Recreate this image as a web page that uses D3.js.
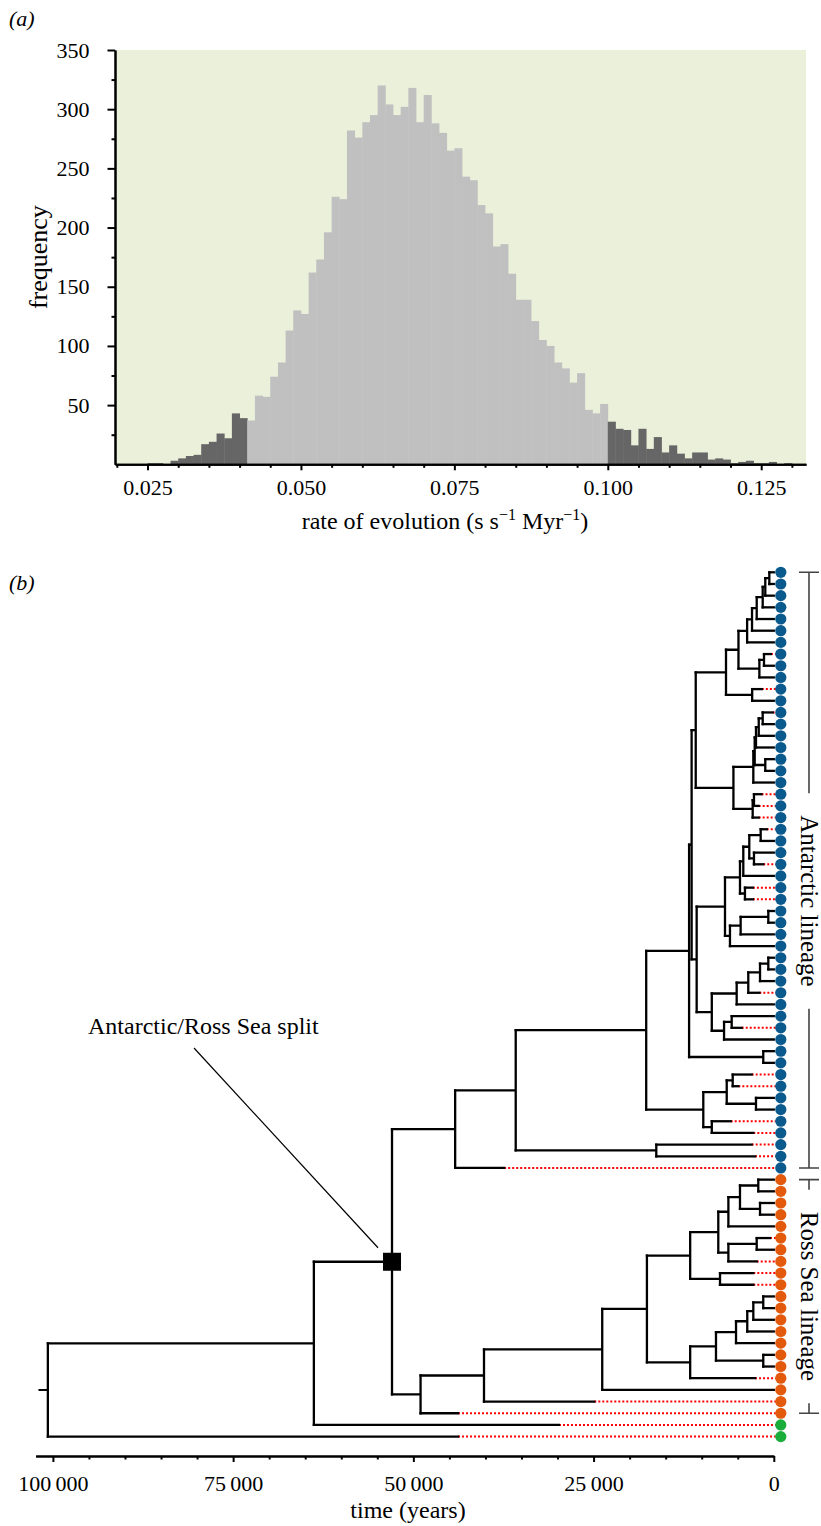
<!DOCTYPE html>
<html>
<head>
<meta charset="utf-8">
<script src="https://cdn.jsdelivr.net/npm/d3@7"></script>
<style>
  body { margin: 0; background: #fff; }
  svg { display: block; font-family: "Liberation Serif", "Times New Roman", serif; }
  .axis path, .axis line { stroke: #000; stroke-width: 2; }
  .axis text { font-family: "Liberation Serif", serif; font-size: 22px; fill: #000; }
  .lbl { font-size: 24px; fill: #000; }
  .tag { font-size: 22px; font-style: italic; fill: #000; }
</style>
</head>
<body>
<svg id="fig" width="821" height="1526"></svg>
<script>
// ---- (a) posterior rates, counts per bin of 0.00125 starting at 0.025
const binStart = 0.025;
const binWidth = 0.00125;
const freq = [1, 1, 0, 3, 5, 7, 8, 17, 19, 26,
  22, 43, 39, 37, 58, 57, 74, 86, 113, 130,
  127, 162, 173, 196, 226, 224, 282, 276, 289, 295,
  320, 304, 295, 302, 318, 289, 312, 288, 280, 265,
  267, 243, 240, 219, 212, 184, 186, 161, 139, 139,
  121, 105, 100, 86, 81, 69, 77, 46, 43, 51,
  36, 30, 29, 16, 30, 13, 23, 10, 16, 9,
  5, 10, 10, 4, 5, 4, 1, 2, 3, 1,
  1, 2, 0, 1];
const hpd = [0.04125, 0.100];
const rateTicks = [0.025, 0.050, 0.075, 0.100, 0.125];
const freqTicks = [50, 100, 150, 200, 250, 300, 350];

// ---- (b) tree, ages in thousand years
const leafAge = [0, 0, 0, 0, 0, 0, 0, 0.4, 0, 0,
  1.66, 0, 0.15, 0, 0, 0, 0, 0, 0, 1.7,
  2.1, 2.1, 0.98, 0, 0, 1.46, 0, 2.9, 2.9, 0,
  0, 0, 0, 0, 0, 0, 2.0, 0, 0, 4.45,
  0, 0, 0, 3.07, 4.92, 0, 0, 5.98, 2.84, 3.07,
  2.6, 37.4, 0, 0, 0, 0, 0, 0.53, 0, 2.37,
  2.84, 2.84, 0, 0, 0, 0, 0, 0, 0, 2.6,
  0, 24.9, 43.8, 29.8, 43.8];
const cladeNames = ["Antarctic lineage", "Ross Sea lineage", "outgroup"];
const cladeFirst = [0, 52, 73];
const cladeLast = [51, 72, 74];
const cladeColor = ["#0b5a8e", "#e35a0c", "#1aad3a"];
const timeTicks = [100000, 75000, 50000, 25000, 0];

const node = (age, ...kids) => ({ age, children: kids.map(k => typeof k === "number" ? { leaf: k } : k) });

const antarcticClade = node(44.2,
  node(35.8,
    node(17.7,
      node(11.75,
        node(11.4,
          node(10.83,
            node(6.63,
              node(4.9,
                node(3.7, node(3.02, node(2.37, node(1.54, node(1.18, node(0.62, 0, 1), 2), 3), 4), 5), 6),
                node(2.0, node(1.36, 7, 8), 9)),
              node(3.0, 10, 11)),
            node(5.6,
              node(2.84, node(2.65, node(2.47, node(2.09, node(1.54, 12, 13), 14), 15), node(1.18, 16, 17)), 18),
              node(2.93, node(2.75, 19, 20), 21))),
          node(10.7,
            node(6.77,
              node(4.69, node(4.23, node(3.4, node(1.82, 22, 23), node(2.75, 24, 25)), 26), node(4.0, 27, 28)),
              node(6.08, node(4.6, node(0.76, 29, 30), 31), 32)),
            node(8.6,
              node(5.15, node(3.54, node(1.91, node(0.76, 33, 34), 35), 36), 37),
              node(6.9, node(5.84, 38, 39), 40)))),
        node(1.46, 41, 42)),
      node(9.78,
        node(6.53, node(5.7, 43, 44), node(2.47, 45, 46)),
        node(8.6, 47, 48))),
    node(16.3, 49, 50)),
  51);

const rossSeaClade = node(49.0,
  node(40.2,
    node(23.8,
      node(17.6,
        node(11.6,
          node(7.7,
            node(6.3, node(4.69, node(2.15, 52, 53), node(1.91, 54, 55)), 56),
            node(6.3, node(2.37, 57, 58), 59)),
          node(7.46, 60, 61)),
        node(11.6,
          node(8.02,
            node(5.24, node(3.68, node(2.84, node(1.46, 62, 63), 64), 65), 66),
            node(1.46, 67, 68)),
          69)),
      70),
    71),
  72);

const splitAge = 52.96;
const tree = node(100.7, node(63.8, node(splitAge, antarcticClade, rossSeaClade), 73), 74);

const svg = d3.select("#fig");

// ================= (a) histogram
const hx = d3.scaleLinear().domain([0.0197, 0.1323]).range([115, 806]);
const hy = d3.scaleLinear().domain([0, 350]).range([464.3, 50]);

svg.append("text").attr("class", "tag").attr("x", 9).attr("y", 26).text("(a)");

svg.append("rect")
  .attr("x", hx.range()[0]).attr("y", hy(350))
  .attr("width", hx.range()[1] - hx.range()[0])
  .attr("height", hy(0) - hy(350))
  .attr("fill", "#ebf0da");

svg.append("g")
  .selectAll("rect")
  .data(freq)
  .join("rect")
  .attr("x", (d, i) => hx(binStart + i * binWidth))
  .attr("width", (d, i) => hx(binStart + (i + 1) * binWidth) - hx(binStart + i * binWidth) + 0.4)
  .attr("y", d => hy(d))
  .attr("height", d => hy(0) - hy(d))
  .attr("fill", (d, i) => {
    const x0 = binStart + i * binWidth + 1e-9;
    return x0 < hpd[0] || x0 >= hpd[1] ? "#666666" : "#c0c0c0";
  });

// x axis
const minorRate = d3.range(0.020, 0.1325, 0.005).filter(v => !rateTicks.some(t => Math.abs(t - v) < 1e-6));
svg.append("g").attr("class", "axis")
  .attr("transform", `translate(0,${hy(0)})`)
  .call(d3.axisBottom(hx).tickValues(minorRate).tickSize(3.5).tickSizeOuter(0).tickFormat(""));
svg.append("g").attr("class", "axis")
  .attr("transform", `translate(0,${hy(0)})`)
  .call(d3.axisBottom(hx).tickValues(rateTicks).tickSize(6).tickSizeOuter(0).tickPadding(9)
    .tickFormat(d3.format(".3f")));

// y axis
const minorFreq = d3.range(25, 350, 50);
svg.append("g").attr("class", "axis")
  .attr("transform", `translate(${hx.range()[0]},0)`)
  .call(d3.axisLeft(hy).tickValues(minorFreq).tickSize(3.5).tickSizeOuter(0).tickFormat(""));
svg.append("g").attr("class", "axis")
  .attr("transform", `translate(${hx.range()[0]},0)`)
  .call(d3.axisLeft(hy).tickValues(freqTicks).tickSize(7.5).tickSizeOuter(0).tickPadding(18));

const xl = svg.append("text").attr("class", "lbl")
  .attr("x", 445).attr("y", 529).attr("text-anchor", "middle");
xl.append("tspan").text("rate of evolution (s s");
xl.append("tspan").attr("dy", -9).style("font-size", "16px").text("\u22121");
xl.append("tspan").attr("dy", 9).text(" Myr");
xl.append("tspan").attr("dy", -9).style("font-size", "16px").text("\u22121");
xl.append("tspan").attr("dy", 9).text(")");

svg.append("text").attr("class", "lbl")
  .attr("transform", `translate(47,${(hy(0) + hy(350)) / 2}) rotate(-90)`)
  .attr("text-anchor", "middle").style("font-size", "26px").text("frequency");

// ================= (b) tree
svg.append("text").attr("class", "tag").attr("x", 9).attr("y", 590).text("(b)");

const tx = d3.scaleLinear().domain([102400, 0]).range([35.6, 773.8]);
const yLeaf = d3.scaleLinear().domain([0, 74]).range([572.3, 1436.6]);

const root = d3.hierarchy(tree);
root.eachAfter(d => {
  if (d.children) {
    d.t = d.data.age * 1000;
    d.py = (d.children[0].py + d.children[d.children.length - 1].py) / 2;
  } else {
    d.t = leafAge[d.data.leaf] * 1000;
    d.py = yLeaf(d.data.leaf);
  }
});

const g = svg.append("g");

// red dotted extensions for sampled-in-the-past tips
g.selectAll("path.ext")
  .data(root.leaves().filter(d => d.t > 0))
  .join("path")
  .attr("class", "ext")
  .attr("d", d => `M${tx(d.t)},${d.py}H${tx(0) + 2}`)
  .attr("stroke", "#ff0000").attr("stroke-width", 2)
  .attr("stroke-dasharray", "2,2").attr("fill", "none");

// branches
g.selectAll("path.br")
  .data(root.descendants())
  .join("path")
  .attr("class", "br")
  .attr("d", d => {
    let p = "";
    if (d.parent) p += `M${tx(d.parent.t)},${d.py}H${tx(d.t)}`;
    if (d.children) p += `M${tx(d.t)},${d.children[0].py}V${d.children[d.children.length - 1].py}`;
    return p;
  })
  .attr("stroke", "#000").attr("stroke-width", 2.3).attr("stroke-linecap", "square")
  .attr("fill", "none");

// root stub
g.append("path")
  .attr("d", `M${tx(root.t + 1300)},${root.py}H${tx(root.t)}`)
  .attr("stroke", "#000").attr("stroke-width", 2);

// tip dots
const cladeOf = i => cladeFirst.findIndex((f, c) => i >= f && i <= cladeLast[c]);
g.selectAll("circle")
  .data(root.leaves())
  .join("circle")
  .attr("cx", tx(0) + 7)
  .attr("cy", d => d.py)
  .attr("r", 5.6)
  .attr("fill", d => cladeColor[cladeOf(d.data.leaf)]);

// split marker
const split = root.descendants().find(d => d.data.age === splitAge);
g.append("rect")
  .attr("x", tx(split.t) - 9).attr("y", split.py - 9)
  .attr("width", 18).attr("height", 18).attr("fill", "#000");
g.append("line")
  .attr("x1", 194).attr("y1", 1048)
  .attr("x2", tx(split.t) - 14).attr("y2", split.py - 14)
  .attr("stroke", "#000").attr("stroke-width", 1.2);
svg.append("text").attr("class", "lbl").attr("x", 88).attr("y", 1034)
  .text("Antarctic/Ross Sea split");

// clade brackets
const bx = 809;
[0, 1].forEach(c => {
  const y0 = yLeaf(cladeFirst[c]), y1 = yLeaf(cladeLast[c]);
  const mid = c === 0 ? 901 : (y0 + y1) / 2;
  const lab = svg.append("text").attr("class", "lbl")
    .attr("transform", `translate(${bx},${mid}) rotate(90)`)
    .attr("text-anchor", "middle").attr("dominant-baseline", "central")
    .style("font-size", "25px")
    .text(cladeNames[c]);
  const half = lab.node().getComputedTextLength() / 2 + 22;
  svg.append("path")
    .attr("d", `M${bx - 10},${y0}H${bx + 10}M${bx},${y0}V${Math.max(y0 + 7, mid - half)}` +
      `M${bx},${Math.min(y1 - 7, mid + half)}V${y1}M${bx - 10},${y1}H${bx + 10}`)
    .attr("stroke", "#444").attr("stroke-width", 1.6).attr("fill", "none");
});

// time axis
const minorTime = d3.range(0, 100001, 5000).filter(v => v % 25000 !== 0);
const fmtTime = d3.formatLocale({ decimal: ".", thousands: "\u2009", grouping: [3], currency: ["", ""] }).format(",");
svg.append("g").attr("class", "axis")
  .attr("transform", "translate(0,1456)")
  .call(d3.axisBottom(tx).tickValues(minorTime).tickSize(3.5).tickSizeOuter(0).tickFormat(""));
svg.append("g").attr("class", "axis")
  .attr("transform", "translate(0,1456)")
  .call(d3.axisBottom(tx).tickValues(timeTicks).tickSize(6).tickSizeOuter(0).tickPadding(13)
    .tickFormat(fmtTime));
svg.append("text").attr("class", "lbl").attr("x", 408).attr("y", 1518)
  .attr("text-anchor", "middle").text("time (years)");
</script>
</body>
</html>
